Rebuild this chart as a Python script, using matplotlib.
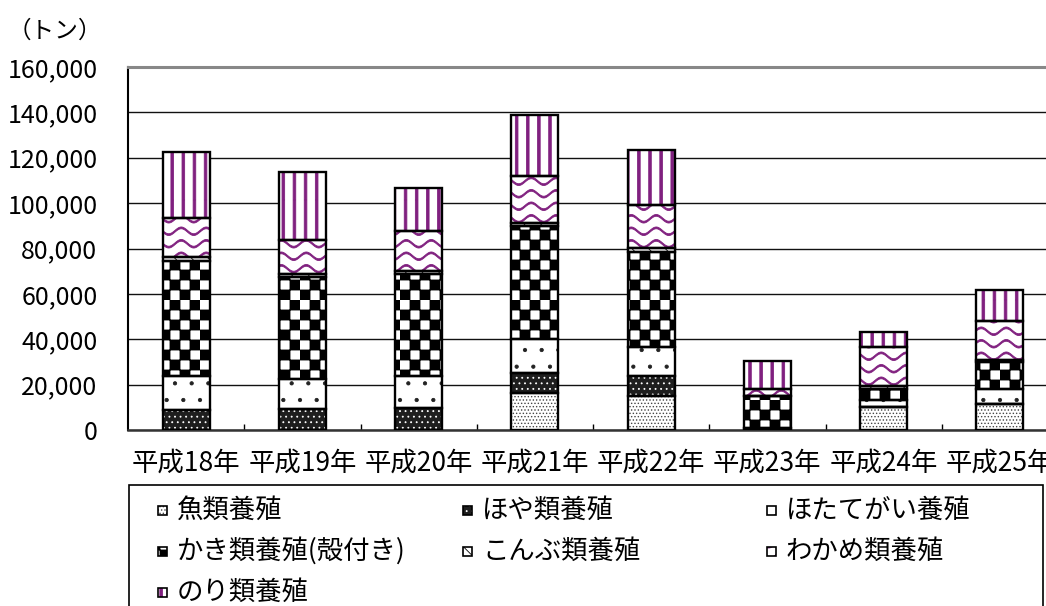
import numpy as np
import matplotlib
matplotlib.use("Agg")
import matplotlib.pyplot as plt
import matplotlib.hatch as mhatch
from matplotlib.path import Path
from matplotlib.patches import Rectangle
from matplotlib.ticker import FuncFormatter, FixedLocator

plt.rcParams['font.family'] = ['Noto Sans CJK JP', 'DejaVu Sans']
plt.rcParams['hatch.linewidth'] = 0.6

# ---------------- data ----------------
years = ['平成18年', '平成19年', '平成20年', '平成21年', '平成22年', '平成23年', '平成24年', '平成25年']
series_names = ['魚類養殖', 'ほや類養殖', 'ほたてがい養殖', 'かき類養殖(殻付き)', 'こんぶ類養殖', 'わかめ類養殖', 'のり類養殖']
fish   = [0, 0, 0, 16100, 15000, 0, 10000, 11400]
hoya   = [9000, 9100, 9500, 9100, 8800, 0, 0, 0]
hotate = [14600, 13200, 14200, 14700, 12900, 1000, 3200, 6600]
kaki   = [51000, 45200, 45200, 49900, 41900, 14000, 4800, 12100]
konbu  = [1500, 1400, 1200, 1400, 1500, 0, 1200, 600]
wakame = [17500, 15000, 17500, 20800, 18900, 3200, 17200, 17300]
nori   = [29000, 29700, 19200, 26900, 24500, 12200, 6900, 13600]
series_values = [fish, hoya, hotate, kaki, konbu, wakame, nori]
y_ticks = [0, 20000, 40000, 60000, 80000, 100000, 120000, 140000, 160000]

# ---------------- custom hatch patterns ----------------
class Checker(mhatch.HatchPatternBase):
    def __init__(self, hatch, density):
        self.n = 10 if '*' in hatch else 0
        self.num_vertices = (self.n * self.n // 2) * 5

    def set_vertices_and_codes(self, vertices, codes):
        s = 1.0 / self.n
        k = 0
        for i in range(self.n):
            for j in range(self.n):
                if (i + j) % 2 == 0:
                    x, y = i * s, j * s
                    vertices[k:k + 5] = [(x, y), (x + s, y), (x + s, y + s), (x, y + s), (x, y)]
                    codes[k:k + 5] = [Path.MOVETO, Path.LINETO, Path.LINETO, Path.LINETO, Path.CLOSEPOLY]
                    k += 5


class Wave(mhatch.HatchPatternBase):
    NP = 81

    def __init__(self, hatch, density):
        self.rows = 8 if 'O' in hatch else 0
        self.num_vertices = self.rows * (2 * self.NP + 1)

    def set_vertices_and_codes(self, vertices, codes):
        xs = np.linspace(0, 1, self.NP)
        amp, th = 0.034, 0.018
        k = 0
        for r in range(self.rows):
            y0 = (r + 0.5) / self.rows
            yc = y0 + amp * np.sin(2 * np.pi * 4 * xs)
            up = np.column_stack([xs, yc + th / 2])
            lo = np.column_stack([xs[::-1], (yc - th / 2)[::-1]])
            poly = np.vstack([up, lo, up[:1]])
            n = len(poly)
            vertices[k:k + n] = poly
            codes[k:k + n] = Path.LINETO
            codes[k] = Path.MOVETO
            codes[k + n - 1] = Path.CLOSEPOLY
            k += n


class VStripes(mhatch.HatchPatternBase):
    def __init__(self, hatch, density):
        self.n = 9 if 'o' in hatch else 0
        self.num_vertices = self.n * 5

    def set_vertices_and_codes(self, vertices, codes):
        w = 0.026
        k = 0
        for i in range(self.n):
            x = (i + 0.5) / self.n
            vertices[k:k + 5] = [(x - w / 2, 0), (x + w / 2, 0), (x + w / 2, 1), (x - w / 2, 1), (x - w / 2, 0)]
            codes[k:k + 5] = [Path.MOVETO, Path.LINETO, Path.LINETO, Path.LINETO, Path.CLOSEPOLY]
            k += 5


ht = mhatch._hatch_types
for idx, cls in enumerate(list(ht)):
    if cls.__name__ == 'Stars':
        ht[idx] = Checker
    elif cls.__name__ == 'LargeCircles':
        ht[idx] = Wave
    elif cls.__name__ == 'SmallCircles':
        ht[idx] = VStripes

PURPLE = '#80207f'
# (facecolor, hatch, hatchcolor) for each series
styles = [
    ('white', '.....', '#444444'),
    ('#1e1e1e', '...', 'white'),
    ('white', '.', '#222222'),
    ('white', '*', 'black'),
    ('white', '\\\\', 'black'),
    ('white', 'O', PURPLE),
    ('white', 'o', PURPLE),
]

# ---------------- figure ----------------
W, H = 1046, 606
fig = plt.figure(figsize=(W / 100, H / 100), dpi=100)
ax_left, ax_right, ax_top, ax_bottom = 128, 1058, 67, 430
ax = fig.add_axes([ax_left / W, 1 - ax_bottom / H, (ax_right - ax_left) / W, (ax_bottom - ax_top) / H])

x = np.arange(len(years))
bw = 0.405
bottom = np.zeros(len(years))
for vals, (fc, hatch, hc) in zip(series_values, styles):
    v = np.array(vals, dtype=float)
    ax.bar(x, v, bw, bottom=bottom, facecolor=fc, edgecolor=hc, hatch=hatch, linewidth=0, zorder=3)
    ax.bar(x, v, bw, bottom=bottom, fill=False, edgecolor='black', linewidth=1.7, zorder=4)
    bottom += v

ax.set_xlim(-0.5, len(years) - 0.5)
ax.set_ylim(0, 160000)
ax.set_yticks(y_ticks)
ax.yaxis.set_major_formatter(FuncFormatter(lambda v, p: f'{int(v):,}'))
ax.tick_params(axis='y', length=0, pad=22, labelsize=18)
ax.set_xticks(x)
ax.set_xticklabels(years)
ax.tick_params(axis='x', which='major', length=0, pad=14, labelsize=19)
ax.xaxis.set_minor_locator(FixedLocator(np.arange(len(years)) + 0.5))
ax.tick_params(axis='x', which='minor', direction='in', length=4.5, width=1, color='black')
ax.grid(axis='y', color='#111111', linewidth=1, zorder=0)
ax.set_axisbelow(True)
ax.spines['right'].set_visible(False)
ax.spines['top'].set_color('#888888')
ax.spines['top'].set_linewidth(2.2)
ax.spines['left'].set_color('black')
ax.spines['left'].set_linewidth(1.5)
ax.spines['bottom'].set_color('#333333')
ax.spines['bottom'].set_linewidth(1.8)

fig.text(8 / W, 1 - 31 / H, '（トン）', fontsize=17, va='center', ha='left')

# ---------------- legend (manual, 3 columns) ----------------
def fx(px):
    return px / W

def fy(py):
    return 1 - py / H

fig.add_artist(Rectangle((fx(129), fy(640)), fx(1043) - fx(129), fy(485) - fy(640),
                         transform=fig.transFigure, facecolor='white', edgecolor='black',
                         linewidth=1.2, clip_on=False, zorder=1))
col_x = [158, 463, 767]
row_y = [510, 551, 592]
msize = 9
for i, (name, (fc, hatch, hc)) in enumerate(zip(series_names, styles)):
    cx = col_x[i % 3]
    cy = row_y[i // 3]
    fig.add_artist(Rectangle((fx(cx), fy(cy + msize / 2)), msize / W, msize / H,
                             transform=fig.transFigure, facecolor=fc, edgecolor=hc, hatch=hatch,
                             linewidth=0, zorder=2))
    fig.add_artist(Rectangle((fx(cx), fy(cy + msize / 2)), msize / W, msize / H,
                             transform=fig.transFigure, fill=False, edgecolor='black',
                             linewidth=1.2, zorder=3))
    fig.text(fx(cx + 19), fy(cy), name, fontsize=19, va='center', ha='left', zorder=3)

fig.savefig('out.png', dpi=100)
